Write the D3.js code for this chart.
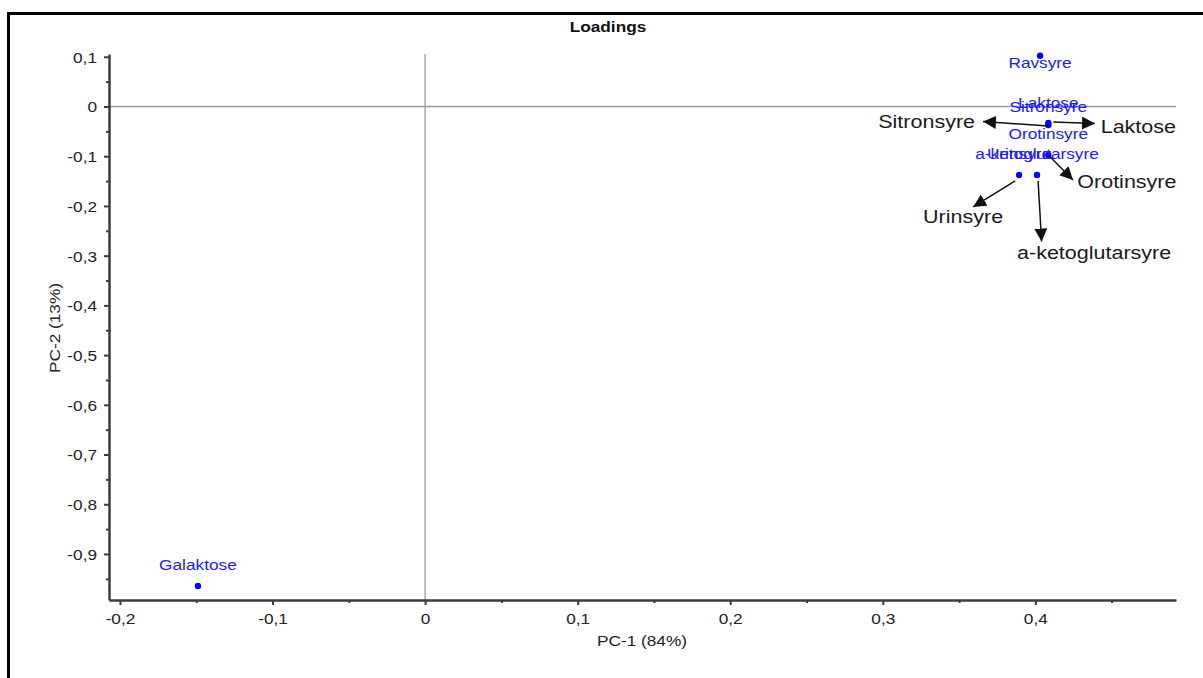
<!DOCTYPE html>
<html>
<head>
<meta charset="utf-8">
<script src="https://cdn.jsdelivr.net/npm/d3@7"></script>
<style>
  body { margin: 0; background: #fff; }
  svg { display: block; font-family: "Liberation Sans", Arial, sans-serif; }
</style>
</head>
<body>
<svg id="chart" width="1203" height="678"></svg>
<script>
// loadings (PC-1, PC-2)
var names = ["Galaktose", "Ravsyre", "Laktose", "Sitronsyre", "Orotinsyre", "Urinsyre", "a-ketoglutarsyre"];
var pc1 = [-0.1489, 0.4031, 0.4085, 0.4085, 0.4085, 0.3893, 0.4011];
var pc2 = [-0.9644, 0.1022, -0.0332, -0.0372, -0.0975, -0.1378, -0.1378];

// callout arrows, in loading units
var calloutNames = ["Sitronsyre", "Laktose", "Orotinsyre", "Urinsyre", "a-ketoglutarsyre"];
var arrowFrom1 = [0.4085, 0.4118, 0.4085, 0.3868, 0.4018];
var arrowFrom2 = [-0.0392, -0.0312, -0.0975, -0.1498, -0.1498];
var arrowTo1 = [0.3657, 0.4391, 0.4247, 0.3592, 0.4041];
var arrowTo2 = [-0.0302, -0.0342, -0.1478, -0.2021, -0.2715];

var xTicks = [-0.2, -0.1, 0, 0.1, 0.2, 0.3, 0.4];
var yTicks = [0.1, 0, -0.1, -0.2, -0.3, -0.4, -0.5, -0.6, -0.7, -0.8, -0.9];

// label placement (pixels)
var labelDy = [-16, 12.6, -15.5, -12.5, -15.5, -16, -16];
var calloutLayout = [
  { anchor: "end", dx: -8, dy: 6.5 },
  { anchor: "start", dx: 5.7, dy: 9.5 },
  { anchor: "start", dx: 4.3, dy: 8 },
  { anchor: "middle", dx: -10, dy: 16 },
  { anchor: "middle", dx: 52.5, dy: 17.5 }
];

var stretch = 1.15; // text in the picture is a bit wide
var axisColor = "#3c3c3c";

var svg = d3.select("#chart");

var x = d3.scaleLinear().domain([-0.2072, 0.4922]).range([109, 1176]);
var y = d3.scaleLinear().domain([-0.9926, 0.1056]).range([600, 54]);

var fmt = function(d) { return d3.format("")(+d.toFixed(2)).replace(".", ",").replace("−", "-"); };

// frame
svg.append("rect")
  .attr("x", 8.5).attr("y", 13.5)
  .attr("width", 1300).attr("height", 800)
  .attr("fill", "none").attr("stroke", "#000").attr("stroke-width", 3);

svg.append("text")
  .attr("transform", "translate(608,32) scale(" + stretch + ",1)")
  .attr("text-anchor", "middle")
  .attr("font-size", 15).attr("font-weight", "bold")
  .attr("fill", "#111")
  .text("Loadings");

// zero lines
svg.append("line")
  .attr("x1", x.range()[0]).attr("x2", x.range()[1])
  .attr("y1", y(0)).attr("y2", y(0))
  .attr("stroke", "#9a9a9a").attr("stroke-width", 1.3);
svg.append("line")
  .attr("x1", x(0)).attr("x2", x(0))
  .attr("y1", y.range()[0]).attr("y2", y.range()[1])
  .attr("stroke", "#9a9a9a").attr("stroke-width", 1.3);

// minor ticks
var xMinor = d3.range(-0.15, 0.46, 0.1);
var yMinor = d3.range(0.05, -0.96, -0.1);

svg.append("g")
  .attr("transform", "translate(0,600)")
  .call(d3.axisBottom(x).tickValues(xMinor).tickSize(3).tickSizeOuter(0).tickFormat(""))
  .call(function(g) { g.select(".domain").remove(); });
svg.append("g")
  .attr("transform", "translate(109,0)")
  .call(d3.axisLeft(y).tickValues(yMinor).tickSize(3).tickSizeOuter(0).tickFormat(""))
  .call(function(g) { g.select(".domain").remove(); });

// main axes
var gx = svg.append("g")
  .attr("transform", "translate(0,600)")
  .call(d3.axisBottom(x).tickValues(xTicks).tickSize(5).tickSizeOuter(0).tickPadding(8).tickFormat(fmt));
var gy = svg.append("g")
  .attr("transform", "translate(109,0)")
  .call(d3.axisLeft(y).tickValues(yTicks).tickSize(5).tickSizeOuter(0).tickPadding(7).tickFormat(fmt));

svg.selectAll(".tick line").attr("stroke", axisColor).attr("stroke-width", 2);
[gx, gy].forEach(function(g) {
  g.select(".domain").attr("stroke", axisColor).attr("stroke-width", 2.5);
  g.selectAll("text")
    .attr("font-size", 15)
    .attr("fill", "#222")
    .attr("font-family", "Liberation Sans, Arial, sans-serif");
});
gx.selectAll("text").attr("transform", "scale(" + stretch + ",1)").attr("y", 13).attr("dy", "0.71em");
gy.selectAll("text").attr("transform", "scale(" + stretch + ",1)").attr("x", -12 / stretch).attr("dy", "0.36em");

svg.append("text")
  .attr("transform", "translate(642,646) scale(" + stretch + ",1)")
  .attr("text-anchor", "middle").attr("font-size", 15).attr("fill", "#222")
  .text("PC-1 (84%)");
svg.append("text")
  .attr("transform", "translate(60,328) rotate(-90) scale(" + stretch + ",1)")
  .attr("text-anchor", "middle").attr("font-size", 15).attr("fill", "#222")
  .text("PC-2 (13%)");

// points and labels
var pts = names.map(function(n, i) { return { name: n, a: pc1[i], b: pc2[i], dy: labelDy[i] }; });

svg.append("g").selectAll("circle")
  .data(pts).join("circle")
  .attr("cx", function(d) { return x(d.a); })
  .attr("cy", function(d) { return y(d.b); })
  .attr("r", 3.2)
  .attr("fill", "#0000ff");

svg.append("g").selectAll("text")
  .data(pts).join("text")
  .attr("transform", function(d) {
    return "translate(" + x(d.a) + "," + (y(d.b) + d.dy) + ") scale(" + stretch + ",1)";
  })
  .attr("text-anchor", "middle")
  .attr("font-size", 15)
  .attr("fill", "#1a1aff")
  .text(function(d) { return d.name; });

// callouts
svg.append("defs").append("marker")
  .attr("id", "head")
  .attr("viewBox", "0 0 13 13")
  .attr("refX", 13).attr("refY", 6.5)
  .attr("markerWidth", 13).attr("markerHeight", 13)
  .attr("markerUnits", "userSpaceOnUse")
  .attr("orient", "auto")
  .append("path")
  .attr("d", "M0,0L13,6.5L0,13Z")
  .attr("fill", "#111");

var callouts = calloutNames.map(function(n, i) {
  return { name: n, x1: arrowFrom1[i], y1: arrowFrom2[i], x2: arrowTo1[i], y2: arrowTo2[i], lay: calloutLayout[i] };
});

svg.append("g").selectAll("line")
  .data(callouts).join("line")
  .attr("x1", function(d) { return x(d.x1); })
  .attr("y1", function(d) { return y(d.y1); })
  .attr("x2", function(d) { return x(d.x2); })
  .attr("y2", function(d) { return y(d.y2); })
  .attr("stroke", "#111").attr("stroke-width", 1.5)
  .attr("marker-end", "url(#head)");

svg.append("g").selectAll("text")
  .data(callouts).join("text")
  .attr("transform", function(d) {
    return "translate(" + (x(d.x2) + d.lay.dx) + "," + (y(d.y2) + d.lay.dy) + ") scale(" + stretch + ",1)";
  })
  .attr("text-anchor", function(d) { return d.lay.anchor; })
  .attr("font-size", 18.7)
  .attr("fill", "#1a1a1a")
  .text(function(d) { return d.name; });
</script>
</body>
</html>
